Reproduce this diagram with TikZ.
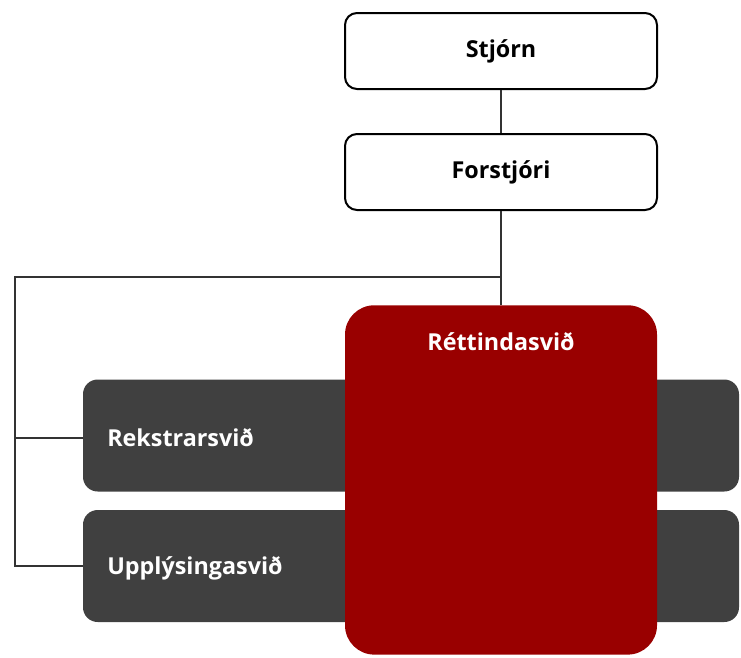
\documentclass[tikz,border=0pt]{standalone}
\usepackage{fontspec}
\setmainfont{Open Sans}
\definecolor{boxred}{HTML}{990000}
\definecolor{boxgray}{HTML}{404040}
\tikzset{
  topbox/.style={draw=black, line width=1.5pt, rounded corners=9pt, fill=white, inner sep=0pt,
    minimum width=234pt, minimum height=57pt, font=\bfseries\fontsize{17.5}{20}\selectfont},
  graybox/.style={fill=boxgray, rounded corners=11pt, inner sep=0pt, minimum width=492pt, minimum height=84pt},
  redbox/.style={fill=boxred, rounded corners=22pt, inner sep=0pt, minimum width=234pt, minimum height=262pt},
  wlabel/.style={text=white, font=\bfseries\fontsize{17.5}{20}\selectfont, inner sep=0pt},
  conn/.style={draw=black!80, line width=1pt}
}
\begin{document}
\begin{tikzpicture}[x=0.75pt,y=-0.75pt]
\useasboundingbox (0,0) rectangle (741,657);
\node[topbox] (stj) at (501,51) {Stjórn};
\node[topbox] (for) at (501,172) {Forstjóri};
\coordinate (j) at (501,277);
\coordinate (l) at (15,277);
\coordinate (lr) at (15,438);
\coordinate (lu) at (15,566);
\node[graybox] (rek) at (411,435.5) {};
\node[graybox] (upp) at (411,566) {};
\node[redbox, anchor=north] (ret) at (501,305) {};
\node[wlabel, anchor=west] (rekt) at (107,438) {Rekstrarsvið};
\node[wlabel, anchor=west] (uppt) at (107,568) {Upplýsingasvið};
\node[wlabel] (rett) at (501,342) {Réttindasvið};
\draw[conn] (stj.south) -- (for.north);
\draw[conn] (for.south) -- (j) -- (ret.north);
\draw[conn] (j) -- (l) -- (lu) -- (upp.west);
\draw[conn] (lr) -- (lr -| rek.west);
\end{tikzpicture}
\end{document}
